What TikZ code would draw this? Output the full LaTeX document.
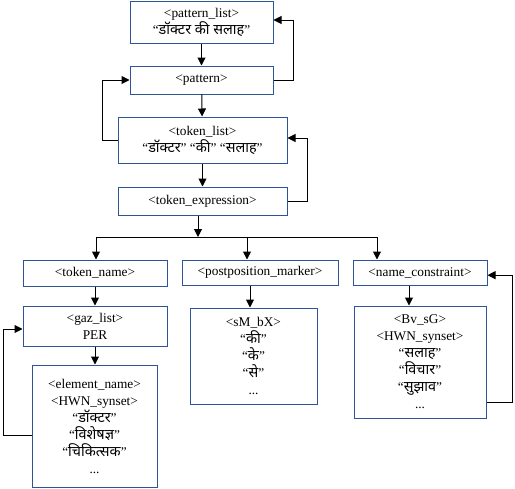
\documentclass[tikz,border=0pt]{standalone}
\usepackage{fontspec}
\setmainfont{Liberation Serif}
\newfontfamily\hin[Script=Devanagari]{Noto Sans}
\usetikzlibrary{arrows.meta}
\definecolor{boxblue}{RGB}{47,84,150}
\newcommand{\hd}[1]{{\hin\fontsize{10.8}{12.75}\selectfont #1}}
\tikzset{
  box/.style={draw=boxblue, line width=0.75pt, align=center, inner sep=0pt, font=\fontsize{10}{12.75}\selectfont},
  arr/.style={-{Triangle[width=6pt,length=6pt]}, line width=0.75pt},
  ln/.style={line width=0.75pt}
}
\begin{document}
\begin{tikzpicture}[x=0.75pt,y=-0.75pt]
\useasboundingbox (0,0) rectangle (515,489);
% upper chain
\node[box, minimum width=107.25pt, minimum height=31.5pt] (plist) at (201.5,22) {<pattern\_list>\\“\hd{डॉक्टर की सलाह}”};
\node[box, minimum width=107.25pt, minimum height=21pt] (pat) at (201.5,80) {<pattern>};
\node[box, minimum width=126.75pt, minimum height=34.5pt] (tlist) at (202.5,140) {<token\_list>\\“\hd{डॉक्टर}” “\hd{की}” “\hd{सलाह}”};
\node[box, minimum width=126.75pt, minimum height=21pt] (texp) at (202.5,201) {<token\_expression>};
% three branches
\node[box, minimum width=108pt, minimum height=19.5pt] (tname) at (95,273) {<token\_name>};
\node[box, minimum width=117pt, minimum height=18.75pt] (ppm) at (260,272.5) {<postposition\_marker>};
\node[box, minimum width=100.5pt, minimum height=18.75pt] (ncon) at (420,272.5) {<name\_constraint>};
\node[box, minimum width=108pt, minimum height=30pt] (gaz) at (95,326) {<gaz\_list>\\PER};
\node[box, minimum width=93.75pt, minimum height=91.5pt] (elem) at (94.5,426) {<element\_name>\\<HWN\_synset>\\“\hd{डॉक्टर}”\\“\hd{विशेषज्ञ}”\\“\hd{चिकित्सक}”\\...};
\node[box, minimum width=95.25pt, minimum height=72pt] (smbx) at (253.5,356) {<sM\_bX>\\“\hd{की}”\\“\hd{के}”\\“\hd{से}”\\...};
\node[box, minimum width=99pt, minimum height=84pt] (bvsg) at (420,362) {<Bv\_sG>\\<HWN\_synset>\\“\hd{सलाह}”\\“\hd{विचार}”\\“\hd{सुझाव}”\\...};

\coordinate (fork) at (198,237);
\coordinate (b1) at (96,237);
\coordinate (b2) at (247,237);
\coordinate (b3) at (377,237);

\draw[arr] (plist) -- (pat);
\draw[arr] (pat) -- (tlist);
\draw[arr] (tlist) -- (texp);
\draw[arr] (pat.east) -- ++(20,0) |- ([yshift=1.5pt]plist.east);
\draw[arr] (tlist.west) -- ++(-15,0) |- (pat.west);
\draw[arr] (texp.east) -- ++(20,0) |- ([yshift=1.5pt]tlist.east);
\draw[arr] (texp.south -| fork) -- (fork);
\draw[ln] (b1) -- (b3);
\draw[arr] (b1) -- (b1 |- tname.north);
\draw[arr] (b2) -- (b2 |- ppm.north);
\draw[arr] (b3) -- (b3 |- ncon.north);
\draw[arr] (tname) -- (gaz);
\draw[arr] (gaz) -- (gaz.south |- elem.north);
\draw[arr] ([xshift=-7.5pt]ppm.south) coordinate (p) -- (p |- smbx.north);
\draw[arr] ([xshift=-8.25pt]ncon.south) coordinate (q) -- (q |- bvsg.north);
\draw[arr] ([yshift=-6.75pt]elem.west) -- ++(-28,0) |- ([yshift=-2.25pt]gaz.west);
\draw[arr] ([yshift=-30pt]bvsg.east) -- ++(26,0) |- ([yshift=-2pt]ncon.east);
\end{tikzpicture}
\end{document}
